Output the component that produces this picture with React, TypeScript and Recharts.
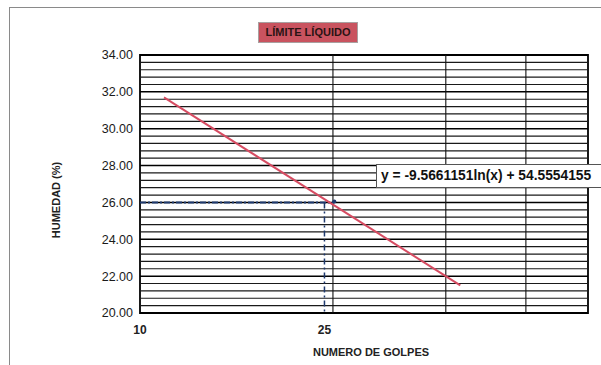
import {
  ComposedChart,
  Line,
  XAxis,
  YAxis,
  ReferenceLine,
  ReferenceArea,
  ReferenceDot,
} from 'recharts'

// y axis (humedad %)
const yTicks = [20, 22, 24, 26, 28, 30, 32, 34]
const yMinor = [
  20.4, 20.8, 21.2, 21.6, 22.4, 22.8, 23.2, 23.6, 24.4, 24.8, 25.2, 25.6,
  26.4, 26.8, 27.2, 27.6, 28.4, 28.8, 29.2, 29.6, 30.4, 30.8, 31.2, 31.6,
  32.4, 32.8, 33.2, 33.6,
]

// x axis (numero de golpes, log scale)
const xGrid = [20, 30, 40]
const xTicks = [10, 19.4]
const xTickLabels: Record<number, string> = { 10: '10', 19.4: '25' }

// trend line
const trend = [
  { golpes: 10.9, humedad: 31.7 },
  { golpes: 31.6, humedad: 21.5 },
]

// limite liquido markers
const humedadLL = 26
const golpesLL = 19.4
const puntoLL = { golpes: 20.1, humedad: 26.05 }

const equation = 'y = -9.5661151ln(x) + 54.5554155'

const font = '"Liberation Sans", Arial, sans-serif'

export default function App() {
  return (
    <div
      style={{
        position: 'absolute',
        left: 0,
        top: 0,
        width: 601,
        height: 365,
        overflow: 'hidden',
        background: '#fff',
        fontFamily: font,
      }}
    >
      <div
        style={{
          position: 'absolute',
          left: 9,
          top: 7,
          width: 600,
          height: 370,
          borderTop: '1px solid #8a8a8a',
          borderLeft: '1px solid #8a8a8a',
        }}
      />
      <ComposedChart
        width={601}
        height={365}
        margin={{ top: 55, right: 13, bottom: 22, left: 80 }}
        style={{ position: 'absolute', left: 0, top: 0 }}
      >
        <XAxis
          dataKey="golpes"
          type="number"
          scale="log"
          domain={[10, 50]}
          ticks={xTicks}
          tickFormatter={(v: number) => xTickLabels[v] ?? ''}
          height={30}
          axisLine={false}
          tickLine={false}
          tickSize={0}
          tickMargin={12}
          allowDataOverflow
          tick={{ fill: '#222', fontSize: 12, fontFamily: font, fontWeight: 'bold' }}
        />
        <YAxis
          type="number"
          domain={[20, 34]}
          ticks={yTicks}
          width={60}
          axisLine={false}
          tickLine={false}
          tickSize={0}
          tickMargin={7}
          tickFormatter={(v: number) => v.toFixed(2)}
          tick={{ fill: '#1a1a1a', fontSize: 12.5, fontFamily: font }}
        />
        {yMinor.map((v) => (
          <ReferenceLine key={'m' + v} y={v} stroke="#1a1a1a" strokeWidth={1.2} />
        ))}
        {yTicks.map((v) => (
          <ReferenceLine key={'M' + v} y={v} stroke="#000" strokeWidth={1.5} />
        ))}
        {xGrid.map((v) => (
          <ReferenceLine key={'x' + v} x={v} stroke="#111" strokeWidth={1.1} />
        ))}
        <ReferenceArea
          x1={10}
          x2={50}
          y1={20}
          y2={34}
          stroke="#000"
          strokeWidth={1.8}
          fill="none"
          fillOpacity={0}
        />
        <ReferenceLine
          segment={[
            { x: 10, y: humedadLL },
            { x: puntoLL.golpes, y: humedadLL },
          ]}
          stroke="#1f3a6e"
          strokeWidth={2}
          strokeDasharray="6 2 2 2"
        />
        <ReferenceLine
          segment={[
            { x: golpesLL, y: humedadLL },
            { x: golpesLL, y: 20 },
          ]}
          stroke="#1f3a6e"
          strokeWidth={1.5}
          strokeDasharray="6 3 2 3"
        />
        <ReferenceDot
          x={puntoLL.golpes}
          y={puntoLL.humedad}
          r={2}
          fill="#1f3a6e"
          stroke="none"
        />
        <Line
          data={trend}
          dataKey="humedad"
          type="linear"
          stroke="#d64c62"
          strokeWidth={2}
          dot={false}
          isAnimationActive={false}
        />
      </ComposedChart>
      <div
        style={{
          position: 'absolute',
          left: 258,
          top: 22,
          width: 100,
          height: 21,
          background: '#c9535f',
          border: '1px solid #a8a0a0',
          boxSizing: 'border-box',
          color: '#2a1414',
          fontSize: 11,
          fontWeight: 'bold',
          lineHeight: '19px',
          textAlign: 'center',
        }}
      >
        LÍMITE LÍQUIDO
      </div>
      <div
        style={{
          position: 'absolute',
          left: 376,
          top: 164,
          width: 240,
          height: 24,
          background: '#fff',
          border: '1px solid #555',
          boxSizing: 'border-box',
          color: '#111',
          fontSize: 13.8,
          fontWeight: 'bold',
          lineHeight: '22px',
          paddingLeft: 4,
          whiteSpace: 'nowrap',
        }}
      >
        {equation}
      </div>
      <div
        style={{
          position: 'absolute',
          left: 56,
          top: 200,
          transform: 'translate(-50%, -50%) rotate(-90deg)',
          fontSize: 11,
          fontWeight: 'bold',
          color: '#222',
          whiteSpace: 'nowrap',
        }}
      >
        HUMEDAD (%)
      </div>
      <div
        style={{
          position: 'absolute',
          left: 371,
          top: 352,
          transform: 'translate(-50%, -50%)',
          fontSize: 11,
          fontWeight: 'bold',
          color: '#222',
          whiteSpace: 'nowrap',
        }}
      >
        NUMERO DE GOLPES
      </div>
    </div>
  )
}
